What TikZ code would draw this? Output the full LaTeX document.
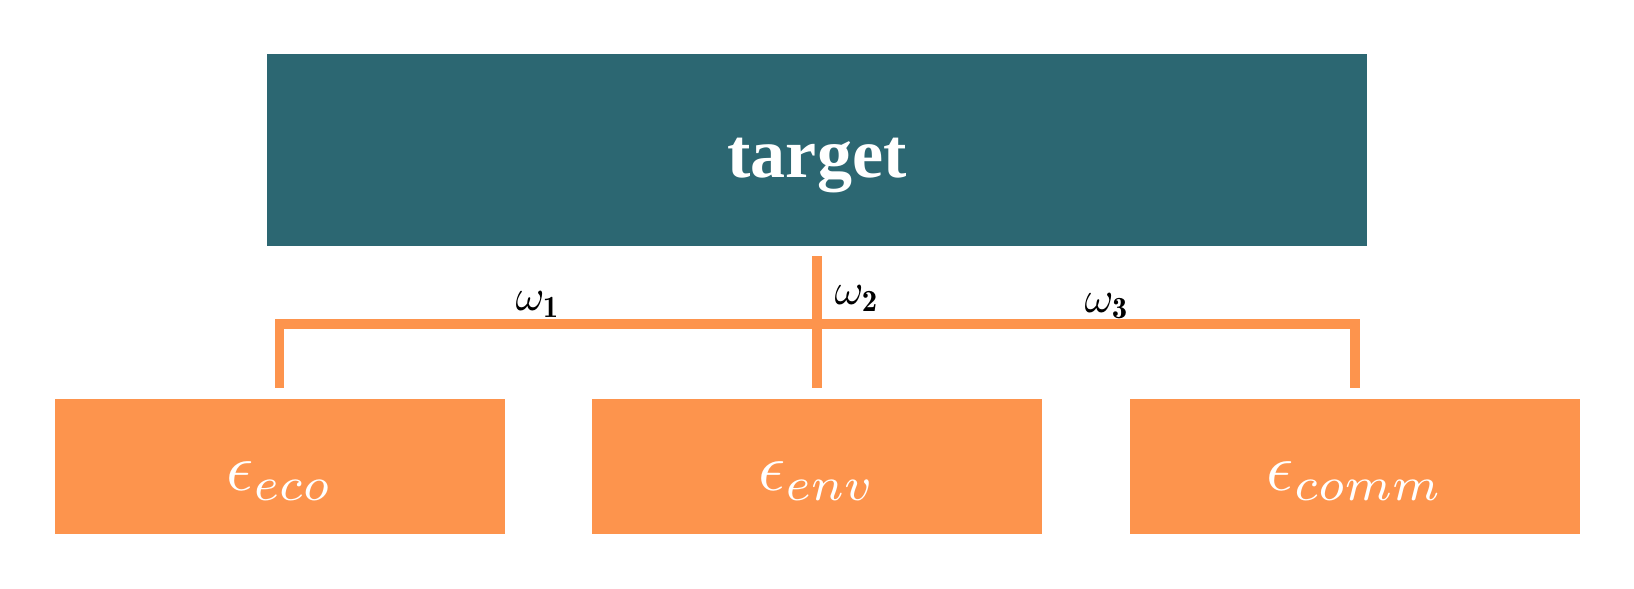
\documentclass[tikz,border=0pt]{standalone}
\usepackage{fontspec}
\newfontfamily\titlefont{Liberation Serif}

\definecolor{tealbox}{RGB}{44,103,114}
\definecolor{orangebox}{RGB}{253,148,77}

\begin{document}
\begin{tikzpicture}[
    x=0.5pt, y=-0.5pt,
    block/.style={fill=orangebox, inner sep=0pt, minimum width=225pt, minimum height=67.5pt},
    wire/.style={draw=orangebox, line width=4.8pt},
    weight/.style={inner sep=0pt, anchor=south, scale=2.2},
    eps/.style={inner sep=0pt, anchor=base, text=white, scale=3.35}
]
    \useasboundingbox (0,0) rectangle (1634,589);

    % Target box
    \node[fill=tealbox, inner sep=0pt, minimum width=550pt, minimum height=96pt] (target) at (817,150) {};
    \node[anchor=base, text=white, font=\titlefont\bfseries\fontsize{35}{40}\selectfont] (targettext) at (817,177) {target};

    % Three criteria
    \node[block] (eco) at (279.5,466.5) {};
    \node[block] (env) at (817,466.5) {};
    \node[block] (comm) at (1355,466.5) {};
    \node[eps] (ecotext) at (279.5,490) {$\epsilon_{eco}$};
    \node[eps] (envtext) at (817,490) {$\epsilon_{env}$};
    \node[eps] (commtext) at (1355,490) {$\epsilon_{comm}$};

    % Weight tree
    \coordinate (bus) at (817,324);
    \draw[wire, shorten <=5.5pt, shorten >=5.5pt] (eco.north) |- (bus) -| (comm.north);
    \draw[wire, shorten <=5pt, shorten >=5.5pt] (target.south) -- (env.north);

    % Weights
    \node[weight] (w1) at (538,318) {$\omega_{\mathbf{1}}$};
    \node[weight] (w2) at (857,312) {$\omega_{\mathbf{2}}$};
    \node[weight] (w3) at (1107,320) {$\omega_{\mathbf{3}}$};
\end{tikzpicture}
\end{document}
